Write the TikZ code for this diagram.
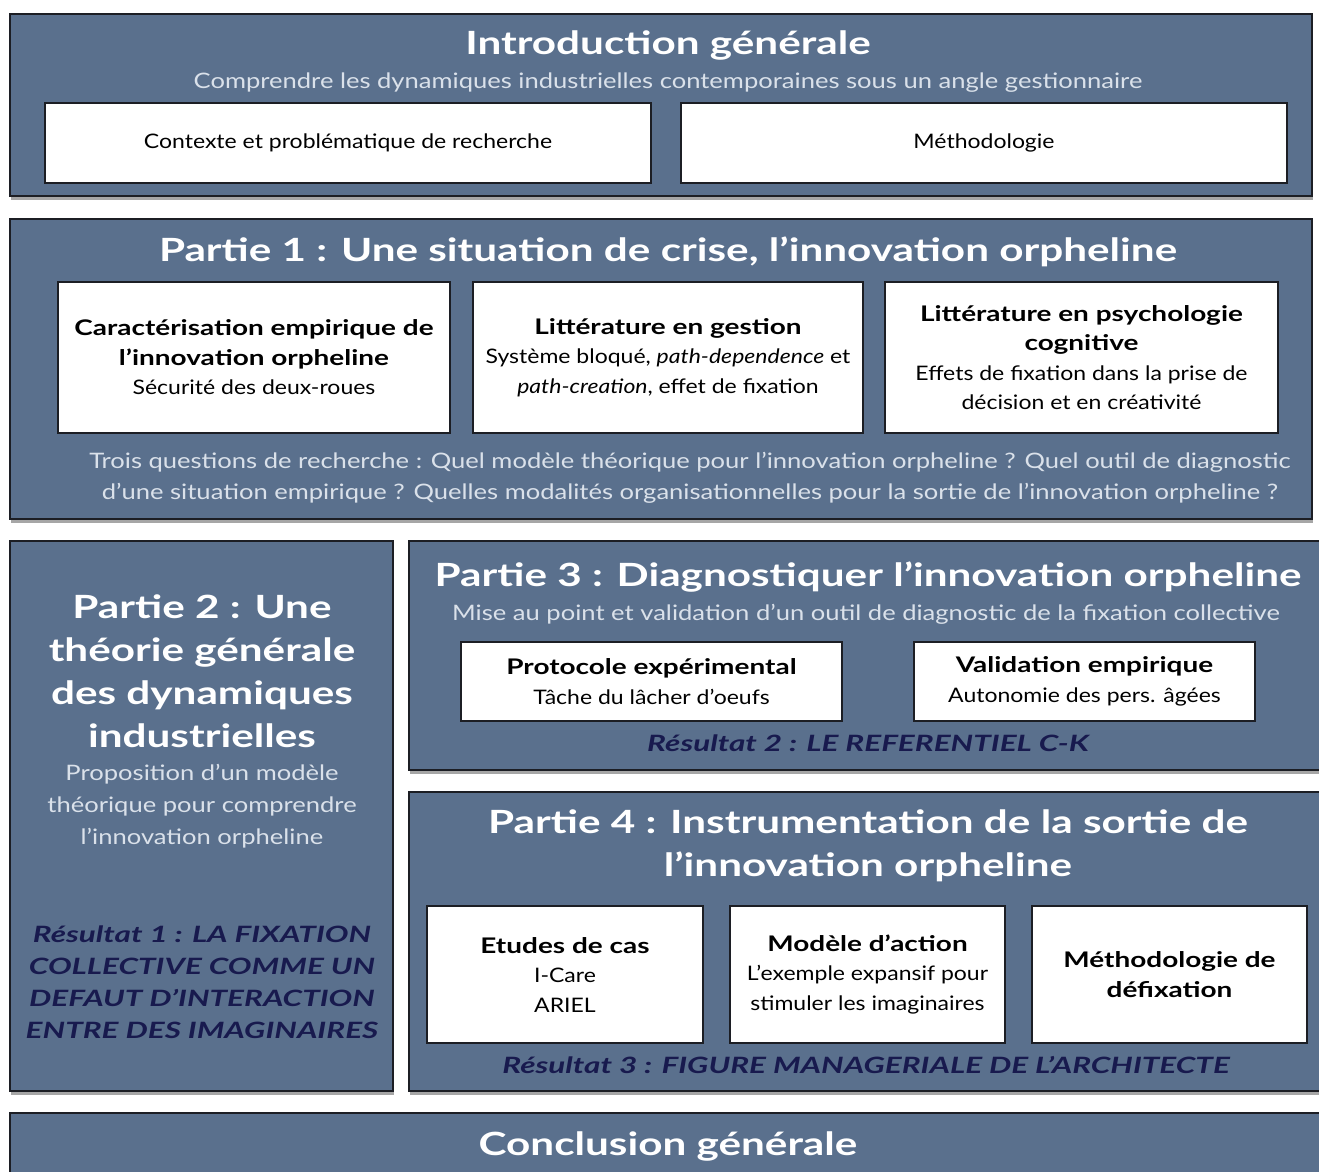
\documentclass[tikz,border=0pt]{standalone}
\usepackage{fontspec}
\setmainfont{Lato}
\newfontfamily\fttl[FakeStretch=1.32]{Lato}
\newfontfamily\fsub[FakeStretch=1.2]{Lato}
\newfontfamily\fbx[FakeStretch=1.15]{Lato}
\newfontfamily\fhd[FakeStretch=1.3]{Lato}
\newfontfamily\fres[FakeStretch=1.4]{Lato}
\usetikzlibrary{shadows}
\definecolor{panel}{RGB}{90,112,141}
\definecolor{navy}{RGB}{24,26,78}
\definecolor{subtxt}{RGB}{218,225,234}
\definecolor{edge}{RGB}{28,30,36}
\newcommand{\hd}{\fhd\bfseries\fontsize{21.5}{29.5}\selectfont}
\begin{document}
\begin{tikzpicture}[x=1pt,y=-1pt,
  panelbox/.style={draw=edge,line width=2.5pt,fill=panel,inner sep=0pt,outer sep=0pt,anchor=north west,
    drop shadow={shadow xshift=1pt,shadow yshift=-4pt,opacity=0.35,fill=black}},
  whitebox/.style={draw=edge,line width=2pt,fill=white,inner sep=0pt,outer sep=0pt,anchor=north west,
    text=black,align=center,font=\fbx\fontsize{20}{29.5}\selectfont},
  ttl/.style={text=white,font=\fttl\bfseries\fontsize{32}{43}\selectfont,align=center,inner sep=0pt},
  subt/.style={text=subtxt,font=\fsub\fontsize{21.3}{32}\selectfont,align=center,inner sep=0pt},
  res/.style={text=navy,font=\fres\bfseries\itshape\fontsize{22.5}{32}\selectfont,align=center,inner sep=0pt}
]
\useasboundingbox (0,0) rectangle (1319,1171);
\fill[white] (0,0) rectangle (1319,1171);

% Introduction
\node[panelbox,minimum width=1302pt,minimum height=182pt] (intro) at (10,14) {};
\node[ttl] (introT) at (668,45) {Introduction générale};
\node[subt] (introS) at (668,83) {Comprendre les dynamiques industrielles contemporaines sous un angle gestionnaire};
\node[whitebox,minimum width=606pt,minimum height=80pt] (ctx) at (45,103) {Contexte et problématique de recherche};
\node[whitebox,minimum width=606pt,minimum height=80pt] (meth) at (681,103) {Méthodologie};

% Partie 1
\node[panelbox,minimum width=1302pt,minimum height=300pt] (p1) at (10,219) {};
\node[ttl] (p1T) at (668,252) {Partie 1 : Une situation de crise, l’innovation orpheline};
\node[whitebox,minimum width=392pt,minimum height=151pt] (car) at (58,282)
  {{\hd Caractérisation empirique de}\\{\hd l’innovation orpheline}\\Sécurité des deux-roues};
\node[whitebox,minimum width=390pt,minimum height=151pt] (litg) at (473,282)
  {{\hd Littérature en gestion}\\Système bloqué, \textit{path-dependence} et\\\textit{path-creation}, effet de fixation};
\node[whitebox,minimum width=393pt,minimum height=151pt] (litp) at (885,282)
  {{\hd Littérature en psychologie}\\{\hd cognitive}\\Effets de fixation dans la prise de\\décision et en créativité};
\node[subt,font=\fsub\fontsize{21.3}{31}\selectfont] (p1Q) at (690,478)
  {Trois questions de recherche : Quel modèle théorique pour l’innovation orpheline ? Quel outil de diagnostic\\d’une situation empirique ? Quelles modalités organisationnelles pour la sortie de l’innovation orpheline ?};

% Partie 2
\node[panelbox,minimum width=383pt,minimum height=550pt] (p2) at (10,541) {};
\node[ttl] (p2T) at (202,671) {Partie 2 : Une\\théorie générale\\des dynamiques\\industrielles};
\node[subt] (p2S) at (202,806) {Proposition d’un modèle\\théorique pour comprendre\\l’innovation orpheline};
\node[res] (p2R) at (202,982) {Résultat 1 : LA FIXATION\\COLLECTIVE COMME UN\\DEFAUT D’INTERACTION\\ENTRE DES IMAGINAIRES};

% Partie 3
\node[panelbox,minimum width=912pt,minimum height=229pt] (p3) at (409,541) {};
\node[ttl] (p3T) at (868,577) {Partie 3 : Diagnostiquer l’innovation orpheline};
\node[subt] (p3S) at (866,614) {Mise au point et validation d’un outil de diagnostic de la fixation collective};
\node[whitebox,minimum width=381pt,minimum height=79pt] (proto) at (461,642)
  {{\hd Protocole expérimental}\\Tâche du lâcher d’oeufs};
\node[whitebox,minimum width=341pt,minimum height=79pt] (valid) at (914,642)
  {{\hd Validation empirique}\\Autonomie des pers. âgées};
\node[res] (p3R) at (868,743) {Résultat 2 : LE REFERENTIEL C-K};

% Partie 4
\node[panelbox,minimum width=912pt,minimum height=299pt] (p4) at (409,792) {};
\node[ttl] (p4T) at (868,846) {Partie 4 : Instrumentation de la sortie de\\l’innovation orpheline};
\node[whitebox,minimum width=276pt,minimum height=137pt] (etud) at (427,906)
  {{\hd Etudes de cas}\\I-Care\\ARIEL};
\node[whitebox,minimum width=275pt,minimum height=137pt] (mod) at (730,906)
  {{\hd Modèle d’action}\\L’exemple expansif pour\\stimuler les imaginaires};
\node[whitebox,minimum width=275pt,minimum height=137pt] (defix) at (1032,906)
  {{\hd Méthodologie de}\\{\hd défixation}};
\node[res] (p4R) at (866,1065) {Résultat 3 : FIGURE MANAGERIALE DE L’ARCHITECTE};

% Conclusion
\node[panelbox,minimum width=1312pt,minimum height=120pt] (concl) at (10,1113) {};
\node[ttl] (conclT) at (668,1146) {Conclusion générale};
\end{tikzpicture}
\end{document}
